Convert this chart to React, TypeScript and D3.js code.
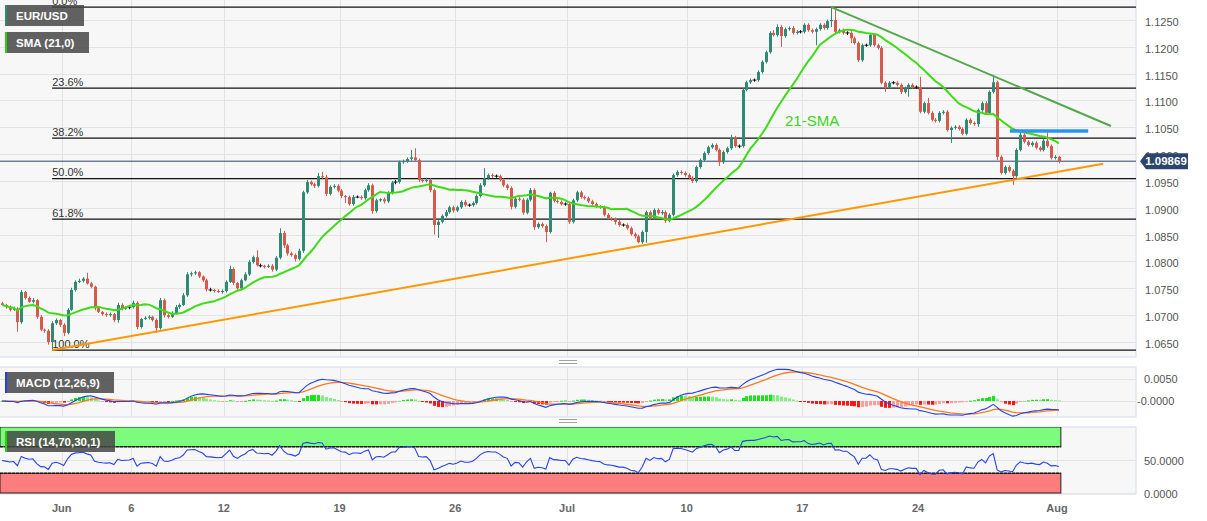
import React from "react";
import * as d3 from "d3";

// ---------- DATA (EUR/USD 4H) ----------
const firstOpen = 1.0722;
const closes = [
  1.0719,1.0715,1.0710,1.0712,1.0687,1.0743,1.0732,1.0725,1.0728,1.0697,1.0673,1.0671,1.0650,1.0685,1.0691,1.0682,
  1.0667,1.0710,1.0747,1.0762,1.0764,1.0768,
  1.0759,1.0753,1.0713,1.0706,1.0702,1.0700,
  1.0702,1.0691,1.0719,1.0712,1.0714,1.0715,
  1.0723,1.0678,1.0693,1.0695,1.0697,1.0691,
  1.0676,1.0728,1.0700,1.0697,1.0704,1.0715,
  1.0719,1.0737,1.0776,1.0778,1.0780,1.0772,
  1.0765,1.0748,1.0747,1.0745,1.0743,1.0745,
  1.0762,1.0786,1.0760,1.0750,1.0765,1.0776,
  1.0799,1.0808,1.0793,1.0792,1.0790,1.0792,
  1.0785,1.0807,1.0853,1.0830,1.0815,1.0812,
  1.0805,1.0820,1.0929,1.0948,1.0944,1.0941,
  1.0959,1.0957,1.0926,1.0939,1.0941,1.0932,
  1.0922,1.0920,1.0907,1.0920,1.0920,1.0918,
  1.0933,1.0942,1.0894,1.0914,1.0916,1.0912,
  1.0928,1.0947,1.0948,1.0985,1.0987,1.0991,
  1.0994,1.0989,1.0952,1.0950,1.0952,1.0933,
  1.0868,1.0874,1.0885,1.0892,1.0901,1.0895,
  1.0901,1.0911,1.0905,1.0905,1.0909,1.0922,
  1.0942,1.0955,1.0961,1.0959,1.0959,1.0952,
  1.0942,1.0937,1.0902,1.0917,1.0915,1.0891,
  1.0915,1.0933,1.0864,1.0870,1.0866,1.0855,
  1.0928,1.0913,1.0911,1.0907,1.0907,1.0874,
  1.0914,1.0929,1.0920,1.0918,1.0912,1.0907,
  1.0903,1.0901,1.0887,1.0881,1.0879,1.0874,
  1.0868,1.0868,1.0862,1.0851,1.0847,1.0836,
  1.0855,1.0892,1.0881,1.0896,1.0890,1.0892,
  1.0876,1.0887,1.0961,1.0967,1.0965,1.0961,
  1.0956,1.0950,1.0976,1.0989,1.1002,1.1013,
  1.1017,1.1008,1.0985,1.1004,1.1011,1.1030,
  1.1015,1.1015,1.1120,1.1134,1.1138,1.1138,
  1.1153,1.1172,1.1190,1.1226,1.1222,1.1237,
  1.1220,1.1233,1.1235,1.1226,1.1228,1.1228,
  1.1241,1.1231,1.1228,1.1233,1.1241,1.1235,
  1.1248,1.1250,1.1228,1.1231,1.1226,1.1226,
  1.1216,1.1207,1.1175,1.1203,1.1203,1.1222,
  1.1203,1.1198,1.1133,1.1125,1.1133,1.1133,
  1.1129,1.1116,1.1123,1.1129,1.1125,1.1125,
  1.1079,1.1095,1.1077,1.1064,1.1062,1.1077,
  1.1079,1.1045,1.1049,1.1051,1.1047,1.1038,
  1.1064,1.1058,1.1056,1.1082,1.1095,1.1077,
  1.1116,1.1134,1.0995,1.0965,1.0976,1.0969,
  1.0959,1.1008,1.1036,1.1023,1.1017,1.1021,
  1.1012,1.1008,1.1025,1.1015,1.0993,1.0995,
  1.09869,
];
// wick lengths in pips above max(open, close) / below min(open, close)
const upperWick = [
  3,2,3,4,3,4,2,3,4,2,3,2,3,4,3,2,
  3,3,4,3,4,3, 11,3,2,3,2,3, 3,2,4,3,2,3, 4,3,2,3,3,2, 3,4,3,2,3,4,
  3,4,4,3,3,2, 2,3,3,2,3,3, 3,6,3,2,3,4, 4,3,13,3,2,3, 3,3,9,4,3,3,
  3,4,3,4,3,3, 6,8,4,3,3,3, 3,2,3,4,3,3, 3,4,3,3,2,3, 3,3,4,3,3,3,
  14,17,3,3,4,3, 3,3,3,4,3,3, 3,3,4,3,3,3, 4,19,3,3,3,3, 3,3,3,3,3,3,
  3,4,3,3,3,3, 2,3,3,3,3,3, 3,3,3,3,3,3, 3,2,3,3,2,3, 3,3,3,3,3,3,
  3,3,3,3,3,4, 3,3,3,3,3,3, 3,3,3,3,3,3, 3,3,3,3,3,6, 4,3,3,3,3,3,
  3,3,3,3,5,5, 4,3,3,4,3,3, 3,3,3,3,3,3, 3,24,19,3,3,3, 3,3,3,3,3,3,
  3,3,3,3,3,3, 3,3,3,3,3,3, 19,3,10,3,3,3, 3,3,3,3,3,3, 3,3,3,3,3,4,
  3,14,3,3,3,3, 3,3,5,3,3,3, 3,3,3,16,3,3,
  2,
];
const lowerWick = [
  2,3,3,2,18,3,3,2,3,4,3,4,5,15,3,4,
  6,3,2,3,2,3, 2,3,4,2,3,3, 3,4,5,3,2,3, 3,4,3,2,3,3, 9,3,4,3,2,3,
  3,2,3,4,3,3, 3,4,3,3,2,3, 3,2,4,3,3,2, 3,3,2,3,3,2, 4,3,3,5,4,3,
  5,3,4,3,3,4, 3,3,4,3,3,3, 4,11,3,3,2,3, 3,3,5,3,3,4, 3,3,3,3,3,3,
  3,3,4,3,3,4, 18,24,3,3,3,4, 3,3,3,3,3,3, 3,3,3,3,3,3, 3,4,5,3,3,4,
  3,3,5,3,3,19, 3,3,3,3,3,4, 3,3,3,3,3,3, 3,3,3,3,3,5, 3,3,3,3,4,2,
  3,20,3,3,3,3, 4,3,3,3,3,3, 3,4,3,3,3,3, 3,3,7,3,3,3, 3,4,3,3,3,3,
  3,3,3,3,3,3, 20,3,3,3,3,3, 3,3,3,25,3,3, 3,11,3,3,3,4, 9,3,3,3,3,3,
  3,3,3,9,3,3, 3,4,3,16,3,3, 3,3,3,3,3,3, 3,3,24,3,3,3, 3,3,3,5,3,3,
  3,3,6,3,3,3, 16,3,3,3,3,3, 3,3,3,3,3,3,
  4,
];

const tickIdx = [15.5, 33.5, 57.5, 87.5, 117.5, 146.5, 177.5, 207.5, 237.5, 273.5];
const tickLabels = ["Jun", "6", "12", "19", "26", "Jul", "10", "17", "24", "Aug"];
const priceTicks = [1.065, 1.07, 1.075, 1.08, 1.085, 1.09, 1.095, 1.1, 1.105, 1.11, 1.115, 1.12, 1.125];
const fibRatios = [0, 0.236, 0.382, 0.5, 0.618, 1];
const fibLabels = ["0.0%", "23.6%", "38.2%", "50.0%", "61.8%", "100.0%"];
const supportLine = { i1: 13, p1: 1.0635, i2: 285.5, p2: 1.0982 };
const resistanceLine = { i1: 215, p1: 1.1274, i2: 287.5, p2: 1.10525 };
const blueLevel = { i1: 261.3, i2: 281.6, p: 1.10432 };
const smaNote = { i: 203, p: 1.1052, text: "21-SMA" };
const lastPrice = 1.09869;
const smaPeriod = 21;
const rsiPeriod = 14;
const rsiSeedMove = 0.0008; // assumed average move before the first visible candle
const macdTicks = [0.005, 0];
const macdTickLabels = ["0.0050", "-0.0000"];
const rsiTicks = [50, 0];
const rsiTickLabels = ["50.0000", "0.0000"];

// ---------- helpers ----------
function ema(vals: number[], p: number) {
  const k = 2 / (p + 1);
  const out: number[] = [];
  let prev = vals[0];
  vals.forEach((v, i) => {
    prev = i === 0 ? v : v * k + prev * (1 - k);
    out.push(prev);
  });
  return out;
}

const FONT = "'Liberation Sans', Arial, sans-serif";

export default function App() {
  const W = 1207, H = 521;
  const plotR = 1136;
  const mainTop = 0, mainBot = 357;
  const macdTop = 367, macdBot = 417;
  const rsiTop = 427, rsiBot = 494;

  const n = closes.length;
  const candles = closes.map((c, i) => {
    const o = i === 0 ? firstOpen : closes[i - 1];
    const h = Math.max(o, c) + upperWick[i] * 1e-4;
    const l = Math.min(o, c) - lowerWick[i] * 1e-4;
    return { i, o, h, l, c };
  });

  const x = d3.scaleLinear().domain([0, 294]).range([2, plotR]);
  const y = d3.scaleLinear().domain([1.065, 1.125]).range([342, 20]);
  const yM = d3.scaleLinear().domain([0, 0.005]).range([401, 379]);
  const yR = d3.scaleLinear().domain([0, 100]).range([493, 427]);

  // SMA
  const sma = closes.map((_, i) => ({
    i,
    v: d3.mean(closes.slice(Math.max(0, i - smaPeriod + 1), i + 1)) as number,
  }));

  // MACD
  const e12 = ema(closes, 12);
  const e26 = ema(closes, 26);
  const macd = closes.map((_, i) => e12[i] - e26[i]);
  const signal = ema(macd, 9);
  const hist = macd.map((m, i) => m - signal[i]);

  // RSI (Wilder)
  const rsi: { i: number; v: number }[] = [];
  let ag = rsiSeedMove, al = rsiSeedMove;
  const allCloses = [firstOpen, ...closes];
  for (let i = 0; i < n; i++) {
    const ch = allCloses[i + 1] - allCloses[i];
    const g = Math.max(ch, 0), l = Math.max(-ch, 0);
    ag = (ag * (rsiPeriod - 1) + g) / rsiPeriod;
    al = (al * (rsiPeriod - 1) + l) / rsiPeriod;
    rsi.push({ i, v: al === 0 ? 100 : 100 - 100 / (1 + ag / al) });
  }

  // Fibonacci
  const hiMax = d3.max(candles, (d) => d.h) as number;
  const loMin = d3.min(candles, (d) => d.l) as number;
  const loIdx = d3.minIndex(candles, (d) => d.l);
  const fibs = fibRatios.map((r, k) => ({ p: hiMax - r * (hiMax - loMin), label: fibLabels[k] }));

  const lineMain = d3.line<{ i: number; v: number }>().x((d) => x(d.i)).y((d) => y(d.v));
  const lineM = d3.line<number>().x((_, i) => x(i)).y((d) => yM(d));
  const lineR = d3.line<{ i: number; v: number }>().x((d) => x(d.i)).y((d) => yR(d.v));

  const up = "#2f8a73";
  const down = "#d65a4b";
  const lastX = x(n - 1) + 2;

  const legend = (lx: number, ly: number, w: number, text: string, strip: string) => (
    <g>
      <rect x={lx} y={ly} width={w} height={21} fill="rgba(70,70,70,0.85)" />
      <rect x={lx} y={ly} width={2} height={21} fill={strip} />
      <text x={lx + 11} y={ly + 15} fill="#fff" fontSize={11.5} fontWeight="bold" fontFamily={FONT}>
        {text}
      </text>
    </g>
  );

  const grip = (gy: number) => (
    <g stroke="#a0a0a0" strokeWidth={1}>
      <line x1={559} x2={577} y1={gy - 1.5} y2={gy - 1.5} />
      <line x1={559} x2={577} y1={gy + 1.5} y2={gy + 1.5} />
    </g>
  );

  return (
    <svg width={W} height={H} style={{ position: "absolute", left: 0, top: 0, background: "#fff" }}>
      <defs>
        <clipPath id="cMain"><rect x={0} y={mainTop} width={plotR} height={mainBot - mainTop} /></clipPath>
        <clipPath id="cMacd"><rect x={0} y={macdTop} width={plotR} height={macdBot - macdTop} /></clipPath>
        <clipPath id="cRsi"><rect x={0} y={rsiTop} width={plotR} height={rsiBot - rsiTop} /></clipPath>
      </defs>

      {/* ===== MAIN PANEL ===== */}
      <rect x={-1} y={mainTop - 1} width={plotR + 1} height={mainBot - mainTop + 1} fill="#f7f7f7" stroke="#d3dae8" />
      <g stroke="#e3e3e3" strokeWidth={1}>
        {priceTicks.map((p) => (
          <line key={p} x1={0} x2={plotR} y1={Math.round(y(p)) + 0.5} y2={Math.round(y(p)) + 0.5} />
        ))}
        {tickIdx.map((t) => (
          <line key={t} x1={Math.round(x(t)) + 0.5} x2={Math.round(x(t)) + 0.5} y1={mainTop} y2={mainBot} />
        ))}
      </g>
      <g clipPath="url(#cMain)">
        {/* fibonacci */}
        {fibs.map((f) => (
          <g key={f.label}>
            <line x1={x(loIdx)} x2={plotR} y1={y(f.p)} y2={y(f.p)} stroke="#111" strokeWidth={1.3} />
            <text x={x(loIdx)} y={y(f.p) - 2.5} fontSize={11} fill="#333" fontFamily={FONT}>
              {f.label}
            </text>
          </g>
        ))}
        {/* last price line */}
        <line x1={0} x2={plotR} y1={y(lastPrice)} y2={y(lastPrice)} stroke="#2b456d" strokeWidth={1} />
        {/* candles */}
        {candles.map((d) => {
          const cx = Math.round(x(d.i)) + 0.5;
          const doji = Math.abs(d.o - d.c) < 0.00015;
          const col = doji ? "#111" : d.c >= d.o ? up : down;
          const top = y(Math.max(d.o, d.c));
          const bot = y(Math.min(d.o, d.c));
          return (
            <g key={d.i}>
              <line x1={cx} x2={cx} y1={y(d.h)} y2={y(d.l)} stroke={col} strokeWidth={1} />
              {doji ? (
                <line x1={cx - 2} x2={cx + 2} y1={y(d.c)} y2={y(d.c)} stroke={col} strokeWidth={1} />
              ) : (
                <rect x={cx - 1.5} y={top} width={3} height={Math.max(1, bot - top)} fill={col} />
              )}
            </g>
          );
        })}
        {/* SMA */}
        <path d={lineMain(sma) || ""} fill="none" stroke="#3edc16" strokeWidth={2} />
        {/* trend lines */}
        <line
          x1={x(supportLine.i1)} y1={y(supportLine.p1)} x2={x(supportLine.i2)} y2={y(supportLine.p2)}
          stroke="#ff9800" strokeWidth={2}
        />
        <line
          x1={x(resistanceLine.i1)} y1={y(resistanceLine.p1)} x2={x(resistanceLine.i2)} y2={y(resistanceLine.p2)}
          stroke="#52a84a" strokeWidth={2}
        />
        <line
          x1={x(blueLevel.i1)} y1={y(blueLevel.p)} x2={x(blueLevel.i2)} y2={y(blueLevel.p)}
          stroke="#2a96ee" strokeWidth={3.5}
        />
        <text x={x(smaNote.i)} y={y(smaNote.p)} fontSize={15} fill="#40d318" fontFamily={FONT}>
          {smaNote.text}
        </text>
      </g>
      {/* price axis labels */}
      {priceTicks.map((p) => (
        <text key={p} x={1145} y={y(p) + 2} dy="0.35em" fontSize={11} fill="#555" fontFamily={FONT}>
          {p.toFixed(4)}
        </text>
      ))}
      {/* last price tag */}
      <g>
        <path
          d={`M1140,${y(lastPrice)} L1146,${y(lastPrice) - 8} L1188,${y(lastPrice) - 8} L1188,${y(lastPrice) + 8} L1146,${y(lastPrice) + 8} Z`}
          fill="#2b456d"
        />
        <text x={1166} y={y(lastPrice)} dy="0.35em" textAnchor="middle" fontSize={11.5} fontWeight="bold" fill="#fff" fontFamily={FONT}>
          {lastPrice.toFixed(5)}
        </text>
      </g>
      {legend(5, 5, 79, "EUR/USD", up)}
      {legend(5, 32, 84, "SMA (21,0)", "#22d400")}
      {grip(362)}

      {/* ===== MACD PANEL ===== */}
      <rect x={-1} y={macdTop} width={plotR + 1} height={macdBot - macdTop} fill="#f7f7f7" stroke="#d3dae8" />
      <g stroke="#e3e3e3">
        {macdTicks.map((t) => (
          <line key={t} x1={0} x2={plotR} y1={Math.round(yM(t)) + 0.5} y2={Math.round(yM(t)) + 0.5} />
        ))}
        {tickIdx.map((t) => (
          <line key={t} x1={Math.round(x(t)) + 0.5} x2={Math.round(x(t)) + 0.5} y1={macdTop} y2={macdBot} />
        ))}
      </g>
      <g clipPath="url(#cMacd)">
        {hist.map((h, i) => {
          const prev = i > 0 ? hist[i - 1] : 0;
          const growing = Math.abs(h) >= Math.abs(prev);
          const col = h >= 0 ? (growing ? "#16e616" : "#7cf27c") : growing ? "#ff1414" : "#ff9c9c";
          const y0 = yM(0), y1 = yM(h);
          return (
            <rect key={i} x={Math.round(x(i)) - 1} y={Math.min(y0, y1)} width={3} height={Math.max(1, Math.abs(y1 - y0))} fill={col} />
          );
        })}
        <path d={lineM(signal) || ""} fill="none" stroke="#ff7a1a" strokeWidth={1.3} />
        <path d={lineM(macd) || ""} fill="none" stroke="#2643e8" strokeWidth={1.1} />
      </g>
      {macdTicks.map((t, k) => (
        <text key={t} x={macdTickLabels[k].startsWith("-") ? 1137 : 1144} y={yM(t)} dy="0.35em" fontSize={11} fill="#555" fontFamily={FONT}>
          {macdTickLabels[k]}
        </text>
      ))}
      {legend(5, 372, 109, "MACD (12,26,9)", "#1f3cff")}
      {grip(421)}

      {/* ===== RSI PANEL ===== */}
      <rect x={-1} y={rsiTop} width={plotR + 1} height={rsiBot - rsiTop} fill="#f7f7f7" stroke="#d3dae8" />
      <g stroke="#e3e3e3">
        {rsiTicks.map((t) => (
          <line key={t} x1={0} x2={plotR} y1={Math.round(yR(t)) + 0.5} y2={Math.round(yR(t)) + 0.5} />
        ))}
        {tickIdx.map((t) => (
          <line key={t} x1={Math.round(x(t)) + 0.5} x2={Math.round(x(t)) + 0.5} y1={rsiTop} y2={rsiBot} />
        ))}
      </g>
      <g clipPath="url(#cRsi)">
        <rect x={0} y={yR(100)} width={lastX} height={yR(70) - yR(100)} fill="#7dfb7d" stroke="#222" strokeWidth={1} />
        <rect x={0} y={yR(30)} width={lastX} height={yR(0) - yR(30)} fill="#fb7d7d" stroke="#222" strokeWidth={1} />
        <line x1={0} x2={lastX} y1={yR(70)} y2={yR(70)} stroke="#000" strokeDasharray="3,1" />
        <line x1={0} x2={lastX} y1={yR(30)} y2={yR(30)} stroke="#000" strokeDasharray="3,1" />
        <path d={lineR(rsi) || ""} fill="none" stroke="#2643e8" strokeWidth={1.1} />
      </g>
      {rsiTicks.map((t, k) => (
        <text key={t} x={1144} y={yR(t) + 1} dy="0.35em" fontSize={11} fill="#555" fontFamily={FONT}>
          {rsiTickLabels[k]}
        </text>
      ))}
      {legend(5, 431, 110, "RSI (14,70,30,1)", "#22d400")}

      {/* ===== X AXIS ===== */}
      {tickIdx.map((t, k) => (
        <text key={t} x={x(t)} y={508} dy="0.35em" textAnchor="middle" fontSize={11} fontWeight="bold" fill="#666" fontFamily={FONT}>
          {tickLabels[k]}
        </text>
      ))}
    </svg>
  );
}
